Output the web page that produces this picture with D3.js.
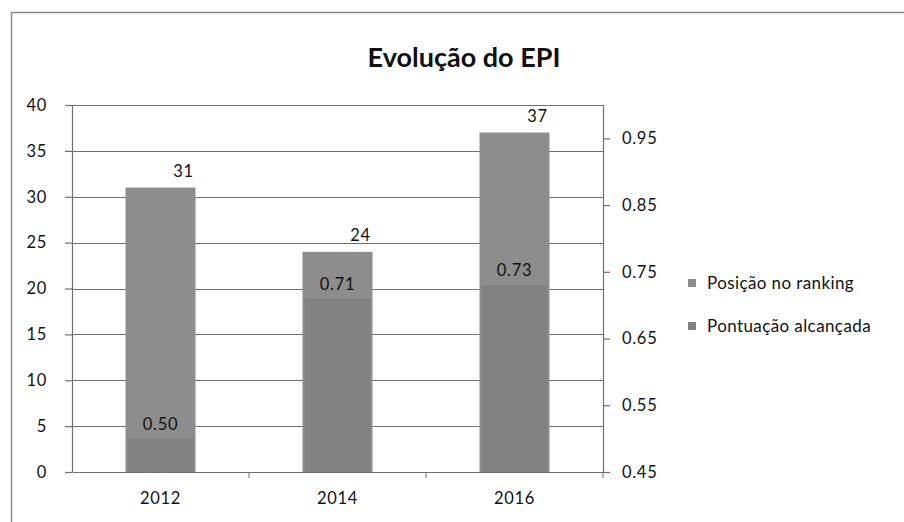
<!DOCTYPE html>
<html>
<head>
<meta charset="utf-8">
<script src="https://cdn.jsdelivr.net/npm/d3@7"></script>
<style>
  body { margin: 0; background: #fff; }
  text { font-family: Lato, "Open Sans", sans-serif; fill: #111; }
</style>
</head>
<body>
<script>
/******************************************************************************/
/* DATA                                                                       */
/******************************************************************************/
var years    = ['2012', '2014', '2016'];
var ranking  = [31, 24, 37];          // Posição no ranking (left axis)
var score    = [0.50, 0.71, 0.73];    // Pontuação alcançada (right axis)
var leftTicks  = [0, 5, 10, 15, 20, 25, 30, 35, 40];
var rightTicks = [0.45, 0.55, 0.65, 0.75, 0.85, 0.95];
var seriesNames = ['Posição no ranking', 'Pontuação alcançada'];

/******************************************************************************/
/* GLOBAL                                                                     */
/******************************************************************************/
var width  = 904;
var height = 522;
var plot = { left: 72, right: 603, top: 105, bottom: 472 };
var colRank  = '#8d8d8d';
var colScore = '#818181';
var lineCol  = '#707070';
var fs = '16.5px';
var ls = '0.7px';

var svg = d3.select('body')
  .append('svg')
  .attr('width', width)
  .attr('height', height);

// chart frame
svg.append('path')
  .attr('d', 'M11.5,' + height + 'V12.5H' + width)
  .attr('fill', 'none')
  .attr('stroke', '#8a8a8a')
  .attr('stroke-width', 1.5);

var x = d3.scaleBand()
  .domain(years)
  .range([plot.left, plot.right]);

var yL = d3.scaleLinear().domain([0, 40]).range([plot.bottom, plot.top]);
var yR = d3.scaleLinear().domain([0.45, 1.0]).range([plot.bottom, plot.top]);

/******************************************************************************/
/* GRID + AXES                                                                */
/******************************************************************************/
svg.append('g')
  .selectAll('line')
  .data(leftTicks.slice(1))
  .enter()
  .append('line')
  .attr('x1', plot.left).attr('x2', plot.right)
  .attr('y1', function(d) { return Math.round(yL(d)) + 0.5; })
  .attr('y2', function(d) { return Math.round(yL(d)) + 0.5; })
  .attr('stroke', lineCol)
  .attr('stroke-width', 1.2);

var axL = svg.append('g')
  .attr('transform', 'translate(' + plot.left + ',0)')
  .call(d3.axisLeft(yL).tickValues(leftTicks).tickSize(7).tickPadding(18));

var axR = svg.append('g')
  .attr('transform', 'translate(' + plot.right + ',0)')
  .call(d3.axisRight(yR).tickValues(rightTicks).tickSize(7).tickPadding(12)
    .tickFormat(d3.format('.2f')));

var axB = svg.append('g')
  .attr('transform', 'translate(0,' + plot.bottom + ')')
  .call(d3.axisBottom(x).tickSize(0).tickPadding(20));

// category separators on the x axis
svg.append('g')
  .selectAll('line')
  .data(years)
  .enter()
  .append('line')
  .attr('x1', function(d) { return x(d) + x.bandwidth(); })
  .attr('x2', function(d) { return x(d) + x.bandwidth(); })
  .attr('y1', plot.bottom).attr('y2', plot.bottom + 6)
  .attr('stroke', lineCol);

[axL, axR, axB].forEach(function(ax) {
  ax.selectAll('path, line').attr('stroke', lineCol).attr('stroke-width', 1.2);
  ax.selectAll('text').style('font-size', fs).style('letter-spacing', ls).attr('fill', '#111');
});
axR.selectAll('path').remove();
svg.append('line')
  .attr('x1', plot.right + 0.5).attr('x2', plot.right + 0.5)
  .attr('y1', plot.top).attr('y2', plot.bottom)
  .attr('stroke', lineCol).attr('stroke-width', 1.2);
axL.select('path').attr('d', 'M0.5,' + plot.top + 'V' + plot.bottom);

/******************************************************************************/
/* BARS                                                                       */
/******************************************************************************/
var bw  = 70;
var bw2 = 66;

svg.append('g')
  .selectAll('rect')
  .data(ranking)
  .enter()
  .append('rect')
  .attr('x', function(d, i) { return x(years[i]) + x.bandwidth() / 2 - bw / 2; })
  .attr('y', function(d) { return yL(d); })
  .attr('width', bw)
  .attr('height', function(d) { return yL(0) - yL(d); })
  .attr('fill', colRank);

svg.append('g')
  .selectAll('rect')
  .data(score)
  .enter()
  .append('rect')
  .attr('x', function(d, i) { return x(years[i]) + x.bandwidth() / 2 - bw2 / 2; })
  .attr('y', function(d) { return yR(d); })
  .attr('width', bw2)
  .attr('height', function(d) { return yR(0.45) - yR(d); })
  .attr('fill', colScore);

// data labels
svg.append('g')
  .selectAll('text')
  .data(ranking)
  .enter()
  .append('text')
  .attr('x', function(d, i) { return x(years[i]) + x.bandwidth() / 2 + 23; })
  .attr('y', function(d) { return yL(d) - 11; })
  .attr('text-anchor', 'middle')
  .style('font-size', fs)
  .style('letter-spacing', ls)
  .text(function(d) { return d; });

svg.append('g')
  .selectAll('text')
  .data(score)
  .enter()
  .append('text')
  .attr('x', function(d, i) { return x(years[i]) + x.bandwidth() / 2; })
  .attr('y', function(d) { return yR(d) - 9; })
  .attr('text-anchor', 'middle')
  .style('font-size', fs)
  .style('letter-spacing', ls)
  .text(function(d) { return d3.format('.2f')(d); });

/******************************************************************************/
/* TITLE + LEGEND                                                             */
/******************************************************************************/
svg.append('text')
  .attr('x', 464)
  .attr('y', 67)
  .attr('text-anchor', 'middle')
  .style('font-size', '27px')
  .style('font-weight', 'bold')
  .text('Evolução do EPI');

var legend = svg.append('g')
  .selectAll('g')
  .data(seriesNames)
  .enter()
  .append('g')
  .attr('transform', function(d, i) { return 'translate(688,' + (283 + i * 43) + ')'; });

legend.append('rect')
  .attr('x', 0).attr('y', -4)
  .attr('width', 8).attr('height', 8)
  .attr('fill', function(d, i) { return i ? colScore : colRank; });

legend.append('text')
  .attr('x', 19)
  .attr('y', 6)
  .style('font-size', '17px')
  .style('letter-spacing', '0.4px')
  .text(function(d) { return d; });
</script>
</body>
</html>
